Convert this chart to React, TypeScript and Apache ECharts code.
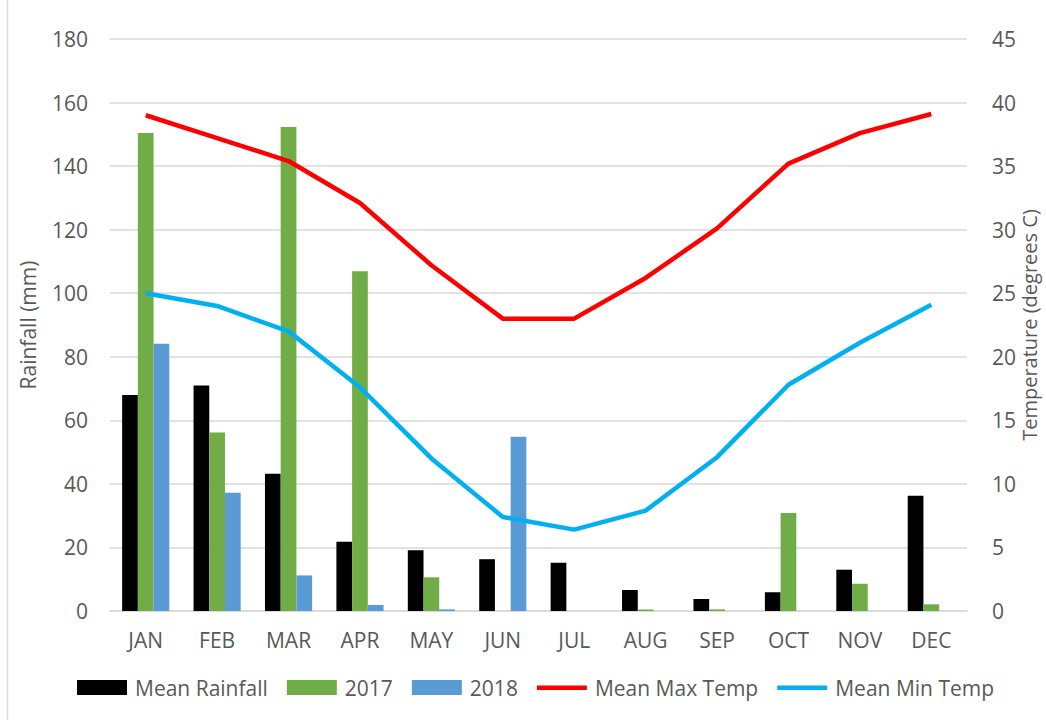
import React, { useEffect, useRef } from "react";
import * as echarts from "echarts";

const months = ["JAN", "FEB", "MAR", "APR", "MAY", "JUN", "JUL", "AUG", "SEP", "OCT", "NOV", "DEC"];
const meanRainfall = [68, 71, 43.2, 21.8, 19.1, 16.3, 15.2, 6.6, 3.8, 5.9, 13, 36.3];
const rain2017 = [150.4, 56.2, 152.3, 106.9, 10.6, 0, 0, 0.5, 0.5, 30.8, 8.6, 2.1];
const rain2018 = [84.1, 37.2, 11.2, 1.9, 0.5, 54.8, 0, 0, 0, 0, 0, 0];
const meanMaxTemp = [39, 37.2, 35.4, 32.1, 27.2, 23, 23, 26.2, 30.1, 35.2, 37.6, 39.1];
const meanMinTemp = [25, 24, 22, 17.6, 12, 7.4, 6.4, 7.9, 12.1, 17.8, 21.1, 24.1];

const FONT = "'Open Sans', sans-serif";
const TXT = "#595959";
const GRID = "#d9d9d9";
const LINE_ICON = "path://M0,0L0,0M0,5.5L50,5.5L50,10L0,10ZM0,15L0,15";

export default function App() {
  const ref = useRef<HTMLDivElement>(null);
  useEffect(() => {
    if (!ref.current) return;
    const chart = echarts.init(ref.current, undefined, { renderer: "svg", width: 1046, height: 720 });
    chart.setOption({
      animation: false,
      backgroundColor: "#ffffff",
      textStyle: { fontFamily: FONT },
      graphic: [
        {
          type: "line",
          shape: { x1: 7.5, y1: 0, x2: 7.5, y2: 720 },
          style: { stroke: GRID, lineWidth: 1.5 },
        },
      ],
      grid: { left: 110, right: 79, top: 39, bottom: 109, outerBoundsMode: "none", containLabel: false },
      legend: {
        left: 72,
        top: 672,
        itemWidth: 50,
        itemHeight: 15,
        itemGap: 19,
        textStyle: { fontFamily: FONT, fontSize: 21, color: TXT, padding: [0, 0, 0, 3] },
        data: [
          { name: "Mean Rainfall", icon: "rect" },
          { name: "2017", icon: "rect" },
          { name: "2018", icon: "rect" },
          { name: "Mean Max Temp", icon: LINE_ICON },
          { name: "Mean Min Temp", icon: LINE_ICON },
        ],
      },
      xAxis: {
        type: "category",
        data: months,
        axisLine: { lineStyle: { color: GRID, width: 1.5 } },
        axisTick: { show: false },
        axisLabel: { color: TXT, fontSize: 21, fontFamily: FONT, margin: 18 },
      },
      yAxis: [
        {
          type: "value",
          min: 0,
          max: 180,
          interval: 20,
          name: "Rainfall (mm)",
          nameLocation: "middle",
          nameGap: 72,
          nameRotate: 90,
          nameMoveOverlap: false,
          nameTextStyle: { color: TXT, fontSize: 21, fontFamily: FONT },
          axisLine: { show: false },
          axisTick: { show: false },
          axisLabel: { color: TXT, fontSize: 21, fontFamily: FONT, margin: 22 },
          splitLine: { lineStyle: { color: GRID, width: 1.5 } },
        },
        {
          type: "value",
          min: 0,
          max: 45,
          interval: 5,
          name: "Temperature (degrees C)",
          nameLocation: "middle",
          nameGap: 52,
          nameRotate: 90,
          nameMoveOverlap: false,
          nameTextStyle: { color: TXT, fontSize: 20, fontFamily: FONT },
          axisLine: { show: false },
          axisTick: { show: false },
          axisLabel: { color: TXT, fontSize: 21, fontFamily: FONT, margin: 25 },
          splitLine: { show: false },
        },
      ],
      series: [
        {
          name: "Mean Rainfall",
          type: "bar",
          data: meanRainfall,
          itemStyle: { color: "#000000" },
          barGap: "0%",
          barCategoryGap: "34%",
        },
        {
          name: "2017",
          type: "bar",
          data: rain2017,
          itemStyle: { color: "#70ad47" },
          barGap: "0%",
          barCategoryGap: "34%",
        },
        {
          name: "2018",
          type: "bar",
          data: rain2018,
          itemStyle: { color: "#5b9bd5" },
          barGap: "0%",
          barCategoryGap: "34%",
        },
        {
          name: "Mean Max Temp",
          type: "line",
          yAxisIndex: 1,
          data: meanMaxTemp,
          symbol: "none",
          lineStyle: { color: "#ff0000", width: 4.5 },
          itemStyle: { color: "#ff0000" },
        },
        {
          name: "Mean Min Temp",
          type: "line",
          yAxisIndex: 1,
          data: meanMinTemp,
          symbol: "none",
          lineStyle: { color: "#00b0f0", width: 4.5 },
          itemStyle: { color: "#00b0f0" },
        },
      ],
    });
    return () => chart.dispose();
  }, []);
  return (
    <div
      ref={ref}
      style={{ position: "absolute", left: 0, top: 0, width: 1046, height: 720 }}
    />
  );
}
